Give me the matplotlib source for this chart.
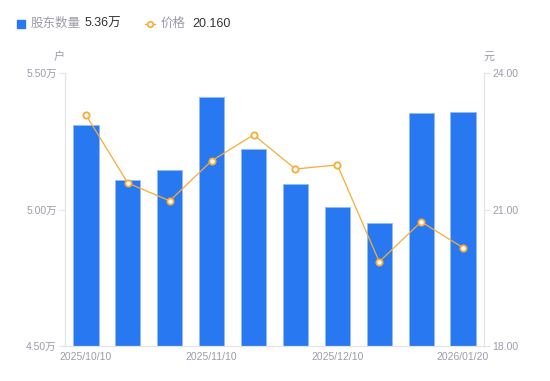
import matplotlib
matplotlib.use("Agg")
import matplotlib.pyplot as plt
from matplotlib.ticker import FixedLocator, FuncFormatter

plt.rcParams['font.family'] = ['Liberation Sans', 'Noto Sans CJK SC', 'DejaVu Sans']

# data
holders = [5.31, 5.108, 5.145, 5.411, 5.222, 5.093, 5.010, 4.949, 5.352, 5.356]  # 万户
price = [23.08, 21.58, 21.19, 22.07, 22.64, 21.89, 21.98, 19.85, 20.73, 20.16]   # 元
tick_idx = [0, 3, 6, 9]
tick_labels = ["2025/10/10", "2025/11/10", "2025/12/10", "2026/01/20"]
left_ticks = [4.50, 5.00, 5.50]
right_ticks = [18.0, 21.0, 24.0]

BLUE = "#2878f2"
ORANGE = "#f7ac36"
GRAY = "#9b9bab"
AXIS = "#e3e3ea"
DARK = "#333333"

fig = plt.figure(figsize=(5.5, 3.81), dpi=100)
ax = fig.add_axes([65 / 550, 1 - 346 / 381, 419 / 550, 273 / 381])
ax2 = ax.twinx()

x = list(range(len(holders)))
ax.bar(x, holders, width=0.6, color=BLUE, edgecolor="#93bcf8", linewidth=0.7)
ax.set_xlim(-0.5, len(holders) - 0.5)
ax.set_ylim(4.5, 5.5)
ax.yaxis.set_major_locator(FixedLocator(left_ticks))
ax.yaxis.set_major_formatter(FuncFormatter(lambda v, p: "%.2f万" % v))
ax.set_xticks(tick_idx)
ax.set_xticklabels(tick_labels)

ax2.plot(x, price, color=ORANGE, linewidth=0.9, marker="o", markersize=4.5,
         markerfacecolor="white", markeredgecolor=ORANGE, markeredgewidth=1.3)
ax2.set_ylim(18, 24)
ax2.yaxis.set_major_locator(FixedLocator(right_ticks))
ax2.yaxis.set_major_formatter(FuncFormatter(lambda v, p: "%.2f" % v))

for a in (ax, ax2):
    a.spines["top"].set_visible(False)
    for s in ("left", "right", "bottom"):
        a.spines[s].set_color(AXIS)
        a.spines[s].set_linewidth(0.8)
    a.tick_params(axis="y", colors=AXIS, labelcolor=GRAY, labelsize=7.5, length=4, width=0.8, pad=2)
    a.tick_params(axis="x", colors=AXIS, labelcolor=GRAY, labelsize=7.5, length=0, pad=4)

# unit labels
fig.text(59 / 550, 1 - 57 / 381, "户", color=GRAY, fontsize=8, ha="center", va="center")
fig.text(489 / 550, 1 - 57 / 381, "元", color=GRAY, fontsize=8, ha="center", va="center")

# legend drawn by hand
ly = 1 - 24 / 381
fig.add_artist(plt.Line2D([21 / 550], [ly], marker="s", markersize=6, color=BLUE,
                          linestyle="none", transform=fig.transFigure))
fig.text(31 / 550, ly, "股东数量", color=GRAY, fontsize=9, va="center")
fig.text(85 / 550, ly, "5.36万", color=DARK, fontsize=9, va="center")
fig.add_artist(plt.Line2D([145 / 550, 155 / 550], [ly, ly], color=ORANGE, linewidth=1,
                          transform=fig.transFigure))
fig.add_artist(plt.Line2D([150 / 550], [ly], color=ORANGE, marker="o", markersize=4,
                          markerfacecolor="white", markeredgewidth=1.2, linestyle="none",
                          transform=fig.transFigure))
fig.text(161 / 550, ly, "价格", color=GRAY, fontsize=9, va="center")
fig.text(192 / 550, ly, "20.160", color=DARK, fontsize=9, va="center")

fig.savefig("out.png", dpi=100)
